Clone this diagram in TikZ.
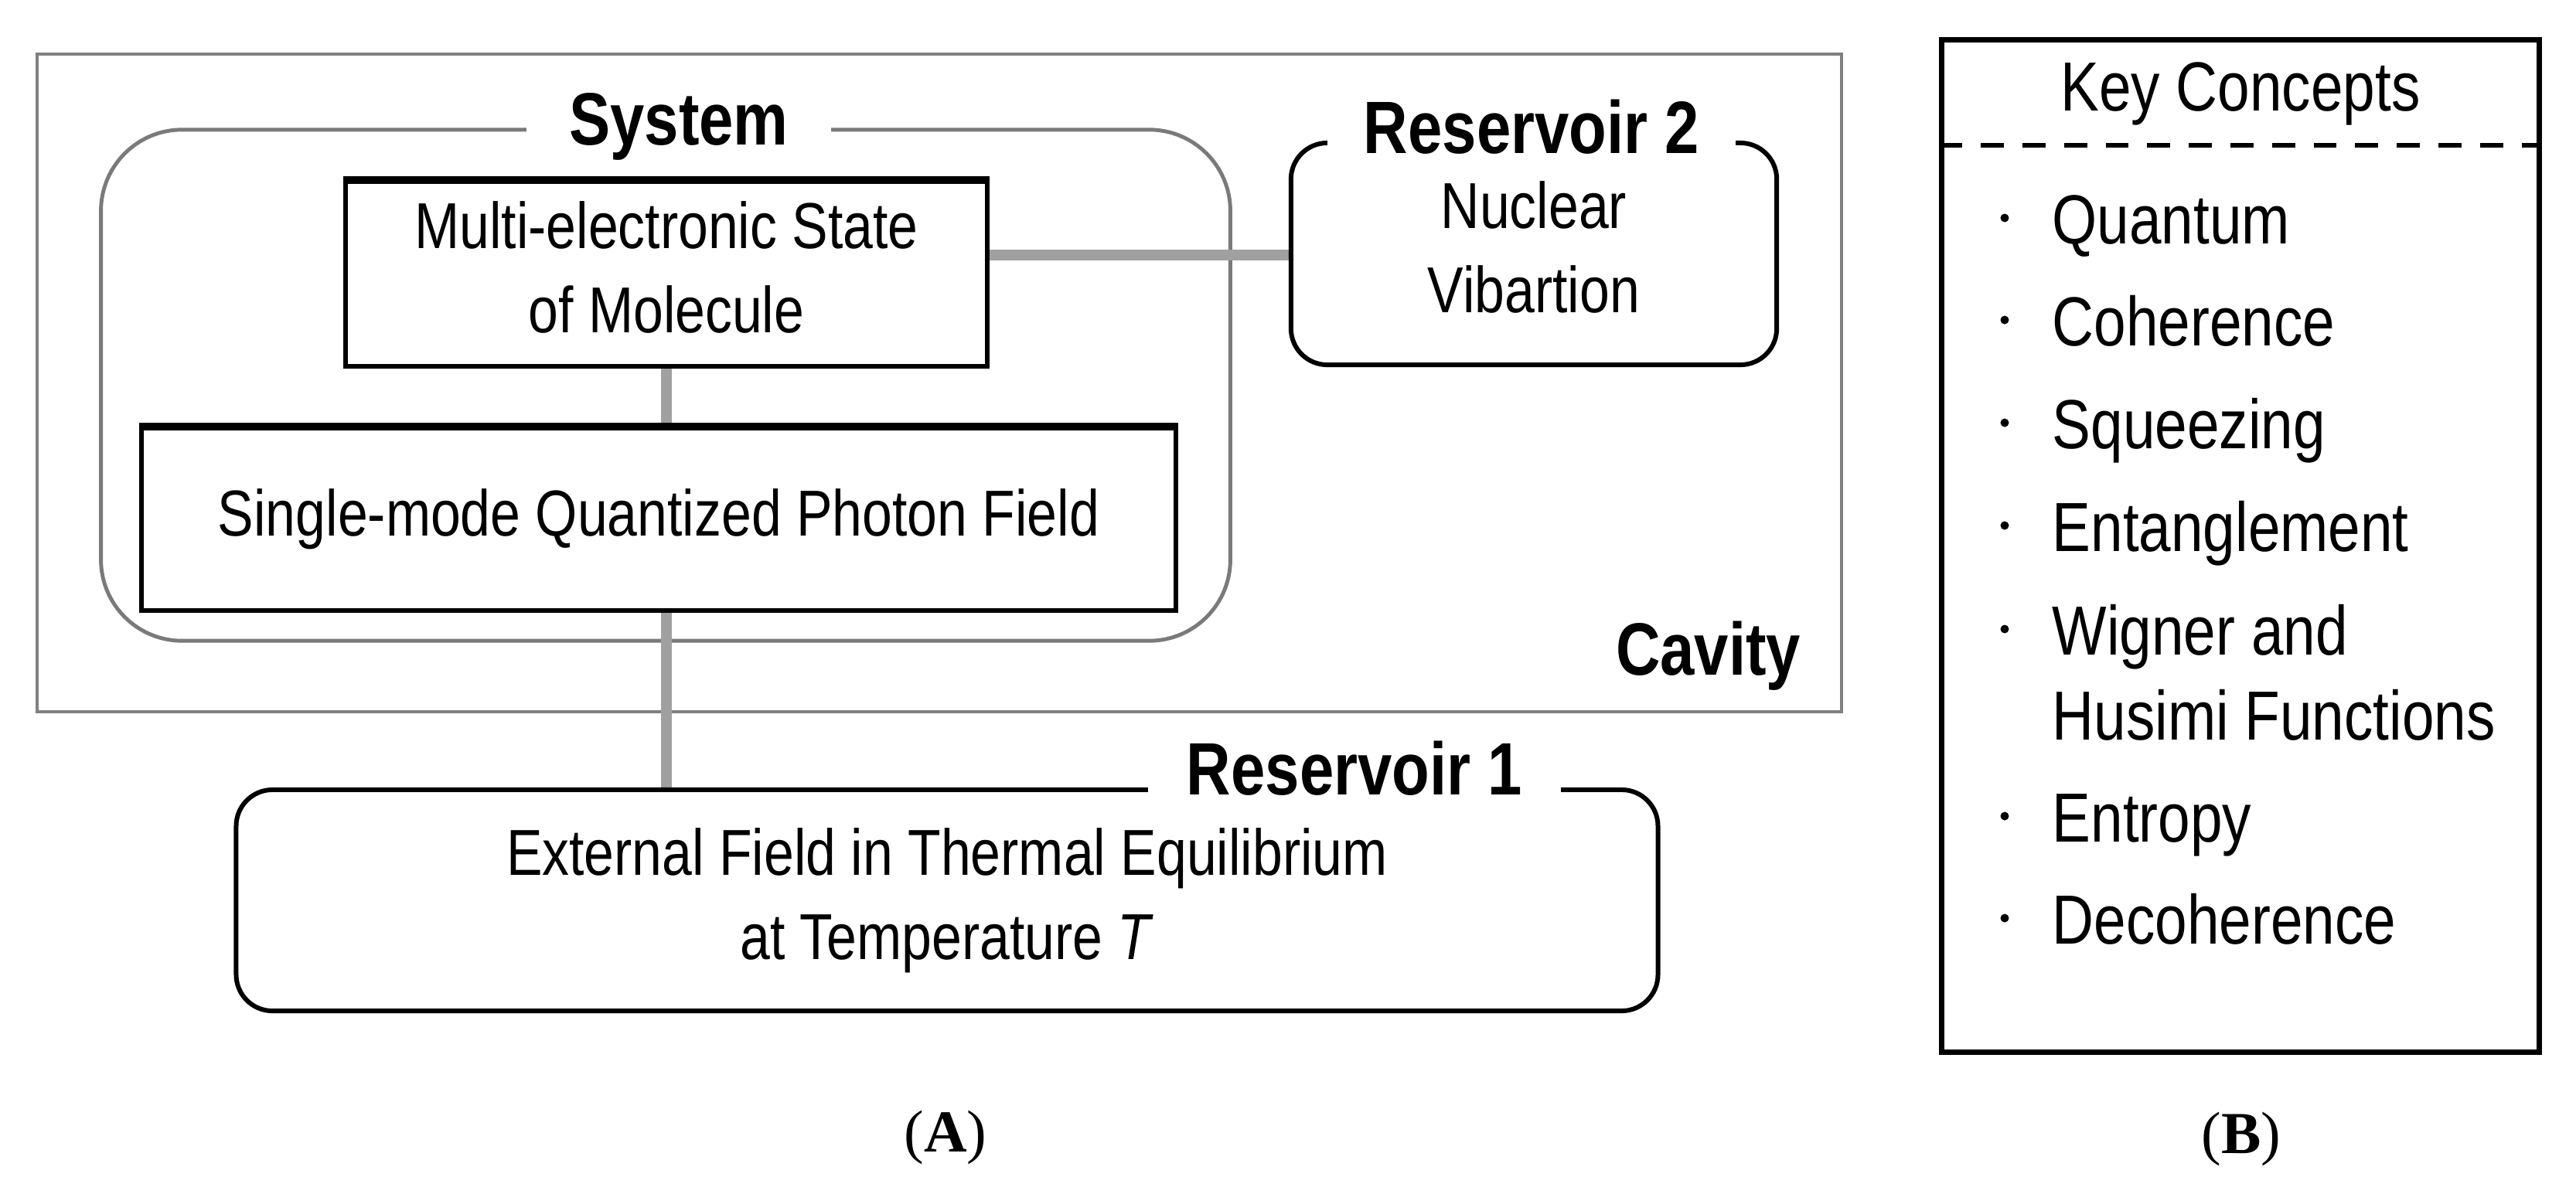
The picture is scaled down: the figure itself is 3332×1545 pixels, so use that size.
\documentclass[tikz,border=0pt]{standalone}
\usepackage{fontspec}
\setmainfont{Liberation Sans}[FakeStretch=0.83]
\newfontfamily\myserif{Liberation Serif}
\usetikzlibrary{backgrounds}
\definecolor{cavgray}{HTML}{808080}
\definecolor{sysgray}{HTML}{7A7A7A}
\definecolor{linkgray}{HTML}{A0A0A0}
\newcommand\myreg{\fontsize{23.9}{31}\selectfont}
\newcommand\mybold{\fontsize{27.3}{33}\selectfont\bfseries}
\newcommand\mykc{\fontsize{25.6}{31}\selectfont}
\newcommand\mycap{\myserif\fontsize{21.9}{26}\selectfont}
\begin{document}
\begin{tikzpicture}[x=0.01cm,y=-0.01cm,
  cavitybox/.style={draw=cavgray, line width=1.1pt, inner sep=0pt},
  systembox/.style={draw=sysgray, line width=1.4pt, rounded corners=1.05cm, inner sep=0pt},
  plainbox/.style={draw=black, line width=1.7pt, fill=white, inner sep=0pt, align=center, font=\myreg},
  resbox/.style={plainbox, rounded corners=0.47cm},
  link/.style={draw=linkgray, line width=4pt},
  boxtitle/.style={fill=white, font=\mybold, inner xsep=0.47cm, inner ysep=2pt, anchor=base},
  keybox/.style={draw=black, line width=2pt, inner sep=0pt},
  keyitem/.style={anchor=base west, font=\mykc, inner sep=0pt},
  keydot/.style={circle, fill=black, inner sep=0pt, minimum size=0.11cm},
  caption/.style={anchor=base, font=\mycap, inner sep=0pt}]
\useasboundingbox (0,0) rectangle (3332,1545);

% (A) panel boxes
\node[plainbox, minimum width=8.29cm, minimum height=2.39cm] (multi) at (862,354.5) {Multi-electronic State\\of Molecule\vphantom{g}};
\node[plainbox, minimum width=13.38cm, minimum height=2.36cm] (single) at (852,672) {Single-mode Quantized Photon Field};
\node[resbox, minimum width=6.28cm, minimum height=2.87cm] (res2) at (1984,328.5) {Nuclear\\Vibartion\vphantom{g}};
\node[resbox, minimum width=18.38cm, minimum height=2.86cm] (res1) at (1225,1165) {External Field in Thermal Equilibrium\\at Temperature \textit{T}};
% heavier top edges of the two square boxes
\draw[black, line width=2.4pt] (multi.north west) -- (multi.north east);
\draw[black, line width=2.4pt] (single.north west) -- (single.north east);

\begin{scope}[on background layer]
  \node[cavitybox, minimum width=23.32cm, minimum height=8.51cm] (cavity) at (1215,495.5) {};
  \node[systembox, minimum width=14.6cm, minimum height=6.61cm] (system) at (861,498.5) {};
  \coordinate (hy) at (0,330);
  \draw[link] (multi.south) -- (multi.south |- single.north);
  \draw[link] (multi.south |- single.south) -- (multi.south |- res1.north);
  \draw[link] (multi.east |- hy) -- (res2.west |- hy);
\end{scope}

\node[boxtitle, inner xsep=0.55cm] (systitle) at (878,187) {System};
\node[boxtitle] (res2title) at (1981,198) {Reservoir 2};
\node[boxtitle, inner xsep=0.5cm] (res1title) at (1752,1028) {Reservoir 1};
\node[anchor=base east, font=\mybold, inner sep=0pt] (cavlabel) at (2330,873) {Cavity};

% (B) panel
\node[keybox, minimum width=7.72cm, minimum height=13.09cm] (kc) at (2898,706.5) {};
\coordinate (dy) at (0,188);
\draw[black, line width=1.7pt, dash pattern=on 8.5pt off 6.8pt] (kc.west |- dy) -- (kc.east |- dy);
\node[anchor=base, font=\mykc, inner sep=0pt] (kchead) at (2898,143) {Key Concepts};

\node[keydot] (d1) at (2593,282) {};
\node[keyitem] (k1) at (2654,315) {Quantum};
\node[keydot] (d2) at (2593,414) {};
\node[keyitem] (k2) at (2654,447) {Coherence};
\node[keydot] (d3) at (2593,547) {};
\node[keyitem] (k3) at (2654,580) {Squeezing};
\node[keydot] (d4) at (2593,680) {};
\node[keyitem] (k4) at (2654,713) {Entanglement};
\node[keydot] (d5) at (2593,814) {};
\node[keyitem] (k5) at (2654,847) {Wigner and};
\node[keyitem] (k5b) at (2654,957) {Husimi Functions};
\node[keydot] (d6) at (2593,1056) {};
\node[keyitem] (k6) at (2654,1089) {Entropy};
\node[keydot] (d7) at (2593,1188) {};
\node[keyitem] (k7) at (2654,1221) {Decoherence};

% captions
\node[caption] (capA) at (1223,1490) {(\textbf{A})};
\node[caption] (capB) at (2899,1492) {(\textbf{B})};
\end{tikzpicture}
\end{document}
